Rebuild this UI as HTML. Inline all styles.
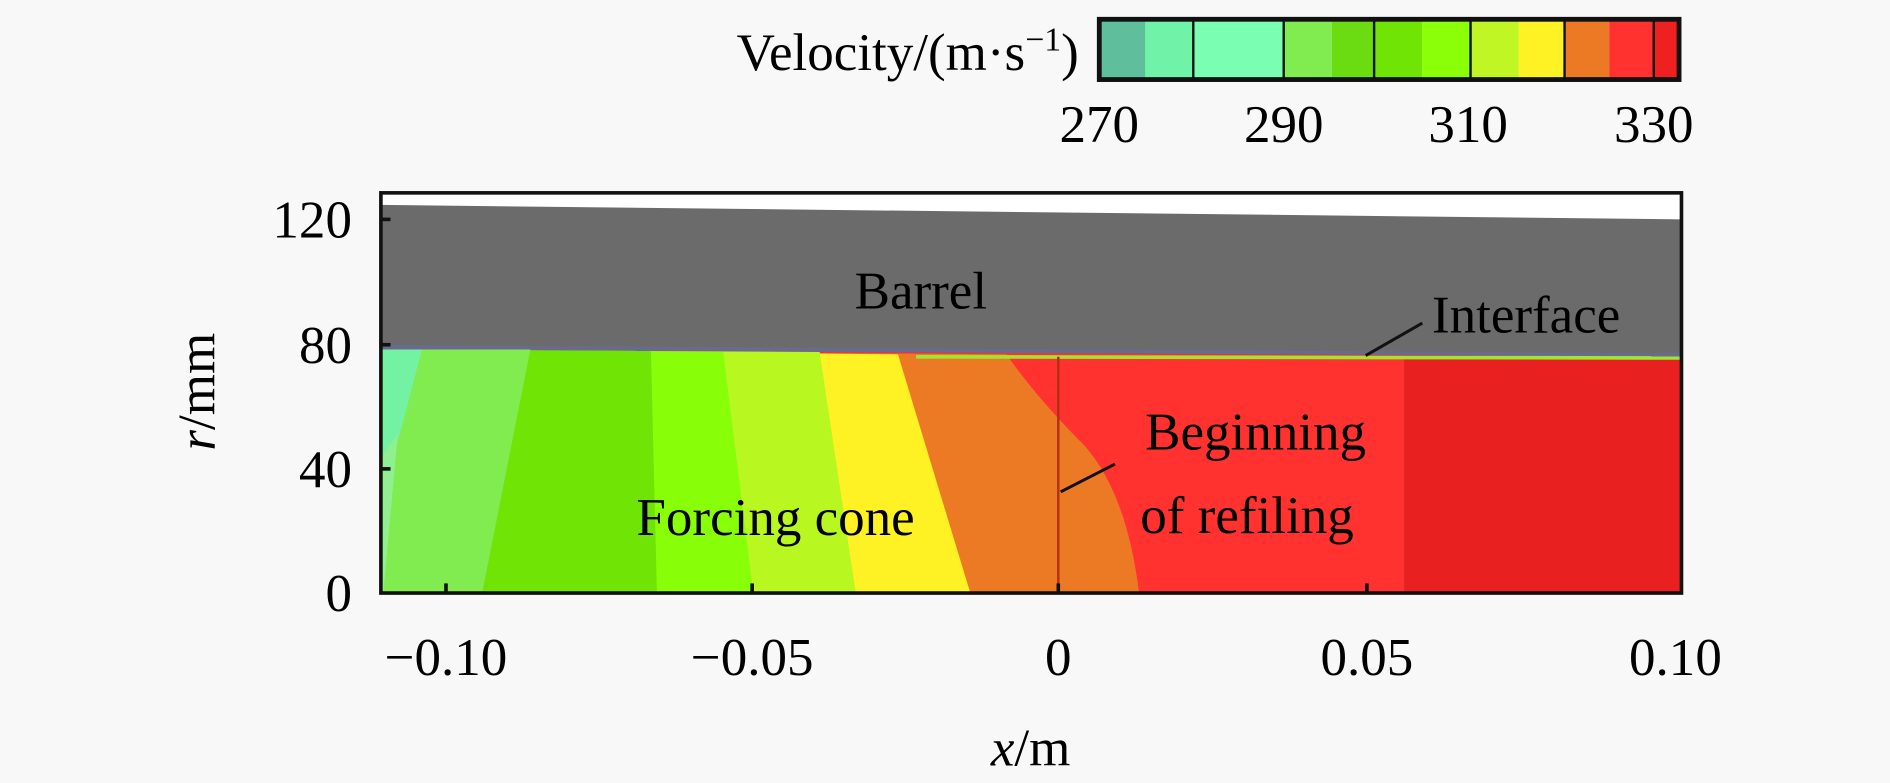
<!DOCTYPE html>
<html><head><style>
html,body{margin:0;padding:0;background:#f8f8f8;}
svg{display:block;font-family:"Liberation Serif",serif;}
</style></head><body>
<svg width="1890" height="783" viewBox="0 0 1568 649.6" preserveAspectRatio="none">
<rect width="1568" height="650" fill="#f8f8f8"/>
<!-- colorbar -->
<g>
<rect x="912" y="16" width="40" height="50" fill="#5fbf9c"/>
<rect x="950" y="16" width="40" height="50" fill="#70f2a8"/>
<rect x="990" y="16" width="75" height="50" fill="#7affb2"/>
<rect x="1065" y="16" width="40" height="50" fill="#80ec50"/>
<rect x="1105" y="16" width="35" height="50" fill="#6cdc12"/>
<rect x="1140" y="16" width="40" height="50" fill="#70e404"/>
<rect x="1180" y="16" width="40" height="50" fill="#8aff08"/>
<rect x="1220" y="16" width="40" height="50" fill="#bff624"/>
<rect x="1260" y="16" width="38" height="50" fill="#fff224"/>
<rect x="1298" y="16" width="37" height="50" fill="#ec7a24"/>
<rect x="1335" y="16" width="37" height="50" fill="#ff3230"/>
<rect x="1372" y="16" width="21" height="50" fill="#ee2020"/>
<g stroke="#111" stroke-width="2">
<line x1="990" y1="16" x2="990" y2="66"/><line x1="1065" y1="16" x2="1065" y2="66"/>
<line x1="1140" y1="16" x2="1140" y2="66"/><line x1="1220" y1="16" x2="1220" y2="66"/>
<line x1="1298" y1="16" x2="1298" y2="66"/><line x1="1372" y1="16" x2="1372" y2="66"/>
</g>
<rect x="912" y="16" width="481" height="50" fill="none" stroke="#111" stroke-width="4"/>
</g>
<text x="895" y="58" font-size="44" text-anchor="end">Velocity/(m·s<tspan dy="-16" font-size="28">−1</tspan><tspan dy="16">)</tspan></text>
<g font-size="44" text-anchor="middle">
<text x="912" y="118">270</text><text x="1065" y="118">290</text>
<text x="1218" y="118">310</text><text x="1372" y="118">330</text>
</g>
<!-- plot -->
<clipPath id="c"><rect x="316" y="160" width="1079" height="332"/></clipPath>
<g clip-path="url(#c)">
<rect x="316" y="160" width="1079" height="332" fill="#ffffff"/>
<polygon points="316,170 1395,182 1395,296 316,288" fill="#6b6b6b"/>
<polygon points="316,286 1395,293 1395,297 316,290" fill="#6a6a8c"/>
<polygon points="316,290 316,492 1400,492 1400,296" fill="#e82020"/>
<polygon points="316,290 1165,295 1165,492 316,492" fill="#ff3230"/>
<path d="M316,290 L835,294 Q860,330 900,370 Q935,410 945,492 L316,492Z" fill="#ec7a24"/>
<path d="M316,290 L745,294 L805,492 L316,492Z" fill="#fff224"/>
<path d="M316,290 L680,292 L710,492 L316,492Z" fill="#b8f820"/>
<path d="M316,290 L600,292 L625,492 L316,492Z" fill="#88ff08"/>
<path d="M316,290 L540,291 L545,492 L316,492Z" fill="#70e404"/>
<path d="M316,290 L440,290 L400,492 L316,492Z" fill="#80ec50"/>
<path d="M316,290 L350,290 L316,420Z" fill="#74f2a4"/>
<path d="M316,380 L330,360 L318,492 L316,492Z" fill="#90f090"/>
<line x1="760" y1="296" x2="1395" y2="297" stroke="#9be830" stroke-width="3"/>
<line x1="878" y1="296" x2="878" y2="492" stroke="#b03010" stroke-width="2"/>
</g>
<rect x="316" y="160" width="1079" height="332" fill="none" stroke="#111" stroke-width="3"/>
<!-- ticks -->
<g stroke="#111" stroke-width="3">
<line x1="370" y1="492" x2="370" y2="484"/><line x1="624" y1="492" x2="624" y2="484"/>
<line x1="878" y1="492" x2="878" y2="484"/><line x1="1134" y1="492" x2="1134" y2="484"/>
<line x1="316" y1="182" x2="324" y2="182"/><line x1="316" y1="286" x2="324" y2="286"/>
<line x1="316" y1="389" x2="324" y2="389"/>
<line x1="1133" y1="295" x2="1180" y2="268" stroke-width="2.5"/>
<line x1="880" y1="408" x2="925" y2="385" stroke-width="2.5"/>
</g>
<g font-size="44" text-anchor="middle">
<text x="370" y="560">−0.10</text><text x="624" y="560">−0.05</text>
<text x="878" y="560">0</text><text x="1134" y="560">0.05</text><text x="1390" y="560">0.10</text>
</g>
<g font-size="44" text-anchor="end">
<text x="292" y="197">120</text><text x="292" y="301">80</text>
<text x="292" y="404">40</text><text x="292" y="507">0</text>
</g>
<text x="855" y="635" font-size="44" text-anchor="middle"><tspan font-style="italic">x</tspan>/m</text>
<text transform="translate(178,325) rotate(-90)" font-size="44" text-anchor="middle"><tspan font-style="italic">r</tspan>/mm</text>
<g font-size="44">
<text x="709" y="256">Barrel</text>
<text x="1188" y="276">Interface</text>
<text x="950" y="373">Beginning</text>
<text x="946" y="442">of refiling</text>
<text x="528" y="444">Forcing cone</text>
</g>
</svg>
</body></html>
